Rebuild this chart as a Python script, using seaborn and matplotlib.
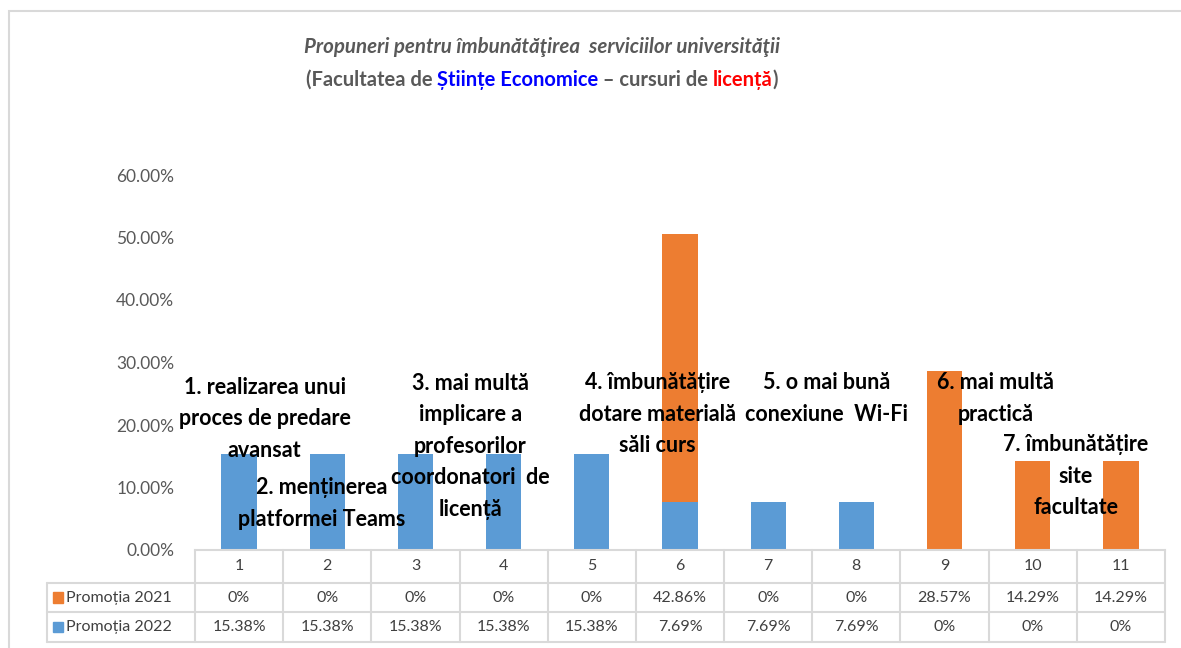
import matplotlib
matplotlib.use("Agg")
import matplotlib.pyplot as plt
import matplotlib.transforms as mtransforms
from matplotlib.patches import Rectangle
import seaborn as sns
import pandas as pd
import numpy as np

# --- data ---
categories = ["1", "2", "3", "4", "5", "6", "7", "8", "9", "10", "11"]
promotia_2021 = [0, 0, 0, 0, 0, 42.86, 0, 0, 28.57, 14.29, 14.29]
promotia_2022 = [15.38, 15.38, 15.38, 15.38, 15.38, 7.69, 7.69, 7.69, 0, 0, 0]
series_names = ["Promoția 2021", "Promoția 2022"]
yticks = [0, 10, 20, 30, 40, 50, 60]

proposals = [
    "1. realizarea unui\nproces de predare\navansat",
    "2. menținerea\nplatformei Teams",
    "3. mai multă\nimplicare a\nprofesorilor\ncoordonatori  de\nlicență",
    "4. îmbunătățire\ndotare materială\nsăli curs",
    "5. o mai bună\nconexiune  Wi-Fi",
    "6. mai multă\npractică",
    "7. îmbunătățire\nsite\nfacultate",
]
# label centres (x in category units, y in axis fraction)
proposal_pos = [(0.29, 0.210), (0.94, 0.074), (2.62, 0.166), (4.74, 0.217),
                (6.66, 0.242), (8.58, 0.242), (9.49, 0.118)]

ORANGE = "#ED7D31"
BLUE = "#5B9BD5"
GREY = "#595959"
LINE = "#D9D9D9"

sns.set_theme(style="white")
plt.rcParams["font.family"] = ["Lato", "DejaVu Sans"]

df = pd.DataFrame({
    "cat": categories,
    "p2021": np.array(promotia_2021) / 100,
    "p2022": np.array(promotia_2022) / 100,
})
df["total"] = df["p2021"] + df["p2022"]

fig = plt.figure(figsize=(11.81, 6.48), dpi=100)
ax = fig.add_axes([195 / 1181, 1 - 550 / 648, 970 / 1181, 375 / 648])

# stacked bars: total in orange, 2022 drawn over it in blue
sns.barplot(data=df, x="cat", y="total", order=categories, color=ORANGE,
            width=0.4, saturation=1, linewidth=0, ax=ax)
sns.barplot(data=df, x="cat", y="p2022", order=categories, color=BLUE,
            width=0.4, saturation=1, linewidth=0, ax=ax)

ax.set_xlim(-0.5, len(categories) - 0.5)
ax.set_ylim(0, 0.6)
ax.set_yticks([t / 100 for t in yticks])
ax.set_yticklabels([f"{t:.2f}%" for t in yticks], color=GREY, fontsize=12.5)
ax.tick_params(axis="y", length=0, pad=15)
ax.set_xticks([])
ax.set_xlabel("")
ax.set_ylabel("")
for s in ["top", "right", "left"]:
    ax.spines[s].set_visible(False)
ax.spines["bottom"].set_color(LINE)
ax.spines["bottom"].set_linewidth(1.5)

# proposal labels
for txt, (px, py) in zip(proposals, proposal_pos):
    ax.text(px, py, txt, ha="center", va="center", fontsize=15.5,
            fontweight="bold", color="black", linespacing=1.62)

# --- data table under the chart ---
tr = mtransforms.blended_transform_factory(ax.transData, ax.transAxes)
row_y = [-0.044, -0.127, -0.205]
hlines = [0, -0.088, -0.1653, -0.2453]
left_x = -2.18
n = len(categories)
kw = dict(transform=tr, color=LINE, lw=1.5, clip_on=False)
for i in range(n + 1):
    ax.plot([i - 0.5, i - 0.5], [0, hlines[-1]], **kw)
ax.plot([left_x, left_x], [hlines[1], hlines[-1]], **kw)
for h in hlines[1:]:
    ax.plot([left_x, n - 0.5], [h, h], **kw)


def pct(v):
    return "0%" if v == 0 else f"{v:.2f}%"


for i, c in enumerate(categories):
    ax.text(i, row_y[0], c, transform=tr, ha="center", va="center",
            fontsize=11.5, color="#404040")
    ax.text(i, row_y[1], pct(promotia_2021[i]), transform=tr, ha="center",
            va="center", fontsize=11.5, color="#404040")
    ax.text(i, row_y[2], pct(promotia_2022[i]), transform=tr, ha="center",
            va="center", fontsize=11.5, color="#404040")

for name, col, y in zip(series_names, [ORANGE, BLUE], row_y[1:]):
    ax.add_patch(Rectangle((left_x + 0.07, y - 0.014), 0.11, 0.028,
                           transform=tr, color=col, clip_on=False))
    ax.text(left_x + 0.22, y, name, transform=tr, ha="left", va="center",
            fontsize=11.5, color="#404040")

# outer chart border
fig.add_artist(Rectangle((9 / 1181, -0.1), 1.2, 1.1 - 11 / 648,
                         transform=fig.transFigure, fill=False,
                         edgecolor=LINE, lw=1.5))

# --- title ---
title_x = 542 / 1181
fig.text(title_x, 1 - 47 / 648, "Propuneri pentru îmbunătăţirea  serviciilor universităţii",
         ha="center", va="center", fontsize=14.8, fontstyle="italic",
         fontweight="bold", color=GREY)

pieces = [("(Facultatea de ", GREY), ("Științe Economice", "#0000FF"),
          (" – cursuri de ", GREY), ("licență", "#FF0000"), (")", GREY)]
renderer = fig.canvas.get_renderer()
texts = []
widths = []
for s, col in pieces:
    t = fig.text(0, 1 - 80 / 648, s, ha="left", va="center", fontsize=14.5,
                 fontweight="bold", color=col)
    texts.append(t)
    widths.append(t.get_window_extent(renderer).width)
start = title_x * fig.bbox.width - sum(widths) / 2
for t, w in zip(texts, widths):
    t.set_x(start / fig.bbox.width)
    start += w

fig.savefig("out.png", dpi=100)
